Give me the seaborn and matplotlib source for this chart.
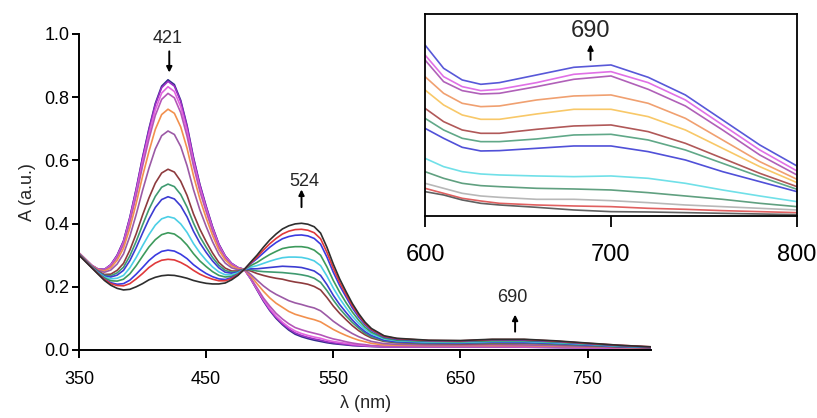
import pandas as pd
import matplotlib
matplotlib.use("Agg")
import matplotlib.pyplot as plt
import seaborn as sns

# wavelength grid of the main spectra (nm)
wavelength = [350, 360, 365, 370, 375, 380, 385, 390, 395, 400, 405, 410, 415, 420,
              425, 430, 435, 440, 445, 450, 455, 460, 465, 470, 475, 480, 485, 490,
              495, 500, 505, 510, 515, 520, 525, 530, 535, 540, 545, 550, 555, 560,
              565, 570, 575, 580, 590, 600, 625, 650, 675, 700, 725, 750, 775, 800]

# titration spectra, first scan -> last scan
t00 = [.307, .268, .256, .255, .270, .300, .345, .420, .510, .610, .700, .780, .835, .855,
       .840, .790, .710, .610, .525, .455, .390, .335, .298, .274, .261, .255, .225, .190,
       .155, .125, .100, .080, .063, .050, .042, .036, .031, .027, .023, .020, .018, .016,
       .014, .013, .012, .011, .010, .010, .010, .010, .010, .009, .008, .007, .006, .005]
t01 = [.307, .268, .256, .255, .269, .299, .344, .418, .508, .607, .696, .776, .830, .850,
       .835, .786, .706, .607, .523, .453, .389, .334, .297, .274, .261, .255, .226, .191,
       .157, .127, .103, .083, .067, .054, .046, .040, .035, .031, .026, .023, .020, .018,
       .015, .014, .013, .012, .010, .010, .010, .010, .010, .009, .008, .007, .006, .005]
t02 = [.307, .268, .255, .254, .268, .296, .339, .412, .499, .596, .683, .760, .813, .833,
       .818, .770, .693, .596, .514, .446, .383, .330, .295, .272, .260, .255, .226, .193,
       .160, .131, .107, .088, .072, .060, .052, .046, .041, .037, .031, .027, .024, .021,
       .018, .016, .014, .013, .011, .011, .011, .011, .011, .010, .009, .007, .006, .005]
t03 = [.307, .267, .255, .253, .265, .293, .334, .404, .488, .582, .667, .742, .793, .812,
       .798, .751, .676, .583, .503, .438, .377, .326, .292, .270, .259, .255, .228, .197,
       .165, .139, .116, .098, .083, .071, .064, .058, .053, .048, .041, .035, .031, .026,
       .022, .019, .017, .014, .012, .012, .011, .011, .011, .011, .009, .008, .007, .005]
t04 = [.306, .267, .254, .250, .260, .284, .322, .386, .464, .550, .628, .698, .745, .762,
       .749, .706, .638, .552, .479, .418, .363, .316, .285, .266, .257, .255, .235, .210,
       .186, .165, .148, .135, .122, .113, .107, .101, .096, .089, .077, .065, .055, .046,
       .038, .031, .026, .021, .016, .015, .014, .014, .014, .014, .012, .010, .008, .006]
t05 = [.305, .266, .252, .246, .253, .272, .304, .360, .429, .505, .575, .636, .678, .693,
       .682, .644, .583, .508, .444, .391, .343, .302, .275, .260, .254, .255, .240, .221,
       .203, .188, .176, .166, .156, .149, .144, .138, .133, .124, .108, .091, .077, .064,
       .052, .042, .034, .027, .020, .018, .016, .016, .017, .016, .014, .011, .009, .006]
t06 = [.304, .264, .249, .239, .240, .252, .274, .316, .368, .427, .481, .528, .560, .572,
       .563, .534, .489, .431, .383, .343, .307, .277, .259, .250, .250, .255, .250, .242,
       .236, .231, .227, .224, .219, .215, .212, .208, .201, .190, .166, .139, .116, .096,
       .077, .061, .048, .038, .027, .023, .020, .019, .021, .021, .018, .014, .010, .007]
t07 = [.303, .264, .247, .236, .235, .244, .262, .298, .344, .396, .445, .486, .515, .525,
       .517, .492, .452, .402, .359, .325, .293, .268, .252, .246, .248, .255, .254, .250,
       .248, .247, .246, .245, .243, .241, .238, .234, .227, .214, .188, .158, .131, .108,
       .087, .069, .053, .042, .029, .025, .021, .021, .023, .023, .019, .015, .011, .008]
t08 = [.303, .263, .246, .234, .231, .237, .252, .283, .324, .370, .414, .451, .476, .485,
       .478, .456, .421, .376, .339, .309, .282, .260, .246, .243, .246, .255, .257, .257,
       .259, .261, .263, .265, .264, .263, .261, .256, .250, .236, .207, .173, .144, .119,
       .095, .075, .058, .046, .031, .026, .023, .022, .025, .024, .021, .016, .011, .008]
t09 = [.302, .262, .245, .231, .225, .227, .236, .260, .293, .330, .365, .395, .415, .422,
       .417, .399, .372, .337, .308, .284, .263, .247, .238, .238, .244, .255, .262, .267,
       .274, .281, .287, .292, .294, .294, .293, .289, .282, .267, .234, .196, .163, .134,
       .107, .084, .065, .051, .035, .029, .025, .024, .027, .027, .023, .018, .012, .009]
t10 = [.302, .262, .243, .228, .219, .218, .224, .241, .267, .297, .326, .349, .365, .371,
       .367, .353, .332, .305, .282, .264, .248, .236, .231, .233, .241, .255, .267, .277,
       .290, .302, .312, .321, .325, .327, .327, .324, .316, .300, .263, .220, .183, .150,
       .120, .094, .072, .056, .038, .031, .027, .026, .029, .029, .025, .019, .013, .009]
t11 = [.301, .261, .242, .224, .213, .208, .210, .221, .240, .261, .283, .300, .312, .316,
       .313, .303, .289, .270, .255, .242, .232, .225, .223, .229, .239, .255, .273, .289,
       .307, .325, .340, .352, .359, .363, .364, .361, .353, .335, .294, .246, .204, .168,
       .133, .104, .080, .062, .041, .034, .029, .028, .032, .031, .027, .020, .014, .009]
t12 = [.301, .261, .241, .223, .210, .204, .203, .210, .225, .242, .261, .275, .284, .287,
       .285, .277, .266, .252, .240, .231, .224, .219, .219, .226, .238, .255, .275, .294,
       .316, .336, .353, .367, .376, .381, .382, .379, .371, .352, .309, .259, .214, .176,
       .140, .110, .084, .065, .043, .036, .030, .029, .033, .033, .028, .021, .015, .010]
t13 = [.300, .260, .240, .220, .205, .195, .190, .192, .200, .210, .222, .230, .235, .237,
       .236, .232, .227, .220, .215, .211, .209, .209, .212, .222, .236, .255, .278, .300,
       .325, .348, .367, .383, .393, .399, .401, .398, .390, .370, .325, .272, .225, .185,
       .147, .115, .088, .068, .045, .037, .031, .030, .034, .034, .029, .022, .015, .010]

main_spectra = [t00, t01, t02, t03, t04, t05, t06, t07, t08, t09, t10, t11, t12, t13]
main_colors = ["#33308c", "#9b2fc4", "#e263de", "#b455b8", "#f2904e", "#9c5aa6",
               "#8e3b3e", "#3f9a70", "#3c3cd2", "#4ccfe6", "#3d9a5c", "#3a3ae0",
               "#e0393b", "#2e2e2e"]

# inset: 600-800 nm band, arbitrary absorbance units
inset_wl = [600, 610, 620, 630, 640, 660, 680, 700, 720, 740, 760, 780, 800]
i01 = [.0513, .0443, .0408, .0395, .0400, .0423, .0446, .0453, .0416, .0363, .0288, .0213, .0150]
i02 = [.0483, .0418, .0388, .0376, .0380, .0400, .0425, .0433, .0400, .0348, .0273, .0198, .0135]
i03 = [.0468, .0403, .0376, .0366, .0368, .0388, .0410, .0420, .0380, .0330, .0258, .0183, .0123]
i04 = [.0418, .0368, .0338, .0328, .0330, .0348, .0360, .0363, .0338, .0293, .0228, .0163, .0110]
i05 = [.0378, .0333, .0303, .0290, .0290, .0306, .0320, .0320, .0298, .0258, .0203, .0148, .0100]
i06 = [.0323, .0283, .0258, .0248, .0248, .0260, .0270, .0273, .0253, .0218, .0173, .0128, .0088]
i07 = [.0293, .0258, .0233, .0223, .0223, .0231, .0243, .0245, .0228, .0198, .0158, .0118, .0080]
i08 = [.0263, .0233, .0206, .0195, .0196, .0203, .0210, .0210, .0193, .0168, .0133, .0103, .0073]
i09 = [.0173, .0148, .0133, .0126, .0123, .0120, .0118, .0120, .0113, .0098, .0078, .0060, .0043]
i10 = [.0133, .0113, .0098, .0091, .0088, .0083, .0081, .0078, .0070, .0060, .0050, .0038, .0028]
i11 = [.0098, .0083, .0068, .0060, .0056, .0050, .0050, .0046, .0040, .0033, .0028, .0023, .0018]
i12 = [.0083, .0068, .0053, .0045, .0038, .0033, .0030, .0028, .0023, .0020, .0016, .0013, .0010]
i13 = [.0073, .0063, .0048, .0038, .0033, .0026, .0018, .0013, .0012, .0010, .0008, .0006, .0004]

inset_spectra = [i01, i02, i03, i04, i05, i06, i07, i08, i09, i10, i11, i12, i13]
inset_colors = ["#5858d8", "#e070e6", "#b060b8", "#f0a070", "#f8c868", "#b05858",
                "#60a888", "#5050d8", "#70e0e8", "#60a080", "#b8b8b8", "#e06060", "#606060"]

sns.set_style("ticks")
plt.rcParams["font.family"] = ["Liberation Sans", "DejaVu Sans"]

fig = plt.figure(figsize=(8.17, 4.18), dpi=100)

# main panel
ax = fig.add_axes([0.0967, 0.1627, 0.7003, 0.756])
df = pd.concat([pd.DataFrame({"wl": wavelength, "A": s, "scan": f"s{i:02d}"})
                for i, s in enumerate(main_spectra)])
sns.lineplot(data=df, x="wl", y="A", hue="scan", palette=main_colors, lw=1.2,
             estimator=None, errorbar=None, legend=False, ax=ax)
ax.set_xlim(350, 800)
ax.set_ylim(0, 1.0)
ax.set_xticks([350, 450, 550, 650, 750])
ax.set_yticks([0.0, 0.2, 0.4, 0.6, 0.8, 1.0])
ax.set_yticklabels(["0.0", "0.2", "0.4", "0.6", "0.8", "1.0"])
sns.despine(ax=ax)
for sp in ["left", "bottom"]:
    ax.spines[sp].set_linewidth(1.4)
    ax.spines[sp].set_color("black")
ax.tick_params(axis="x", direction="out", length=6, width=1.4, labelsize=13, pad=9, colors="black")
ax.tick_params(axis="y", direction="out", length=5, width=1.4, labelsize=13, pad=2, colors="black")
ax.set_xlabel("λ (nm)", fontsize=13, labelpad=5)
ax.set_ylabel("A (a.u.)", fontsize=13, labelpad=6)

arrow = dict(arrowstyle="-|>", color="black", lw=1.4, mutation_scale=8, shrinkA=0, shrinkB=0)
ax.text(419.5, 0.987, "421", ha="center", va="center", fontsize=13)
ax.annotate("", xy=(421, 0.878), xytext=(421, 0.945), arrowprops=arrow)
ax.text(527, 0.532, "524", ha="center", va="center", fontsize=13)
ax.annotate("", xy=(525, 0.508), xytext=(525, 0.452), arrowprops=arrow)
ax.text(691, 0.165, "690", ha="center", va="center", fontsize=13)
ax.annotate("", xy=(693, 0.112), xytext=(693, 0.058), arrowprops=arrow)

# inset panel
axin = fig.add_axes([0.5202, 0.4833, 0.4553, 0.4833])
dfi = pd.concat([pd.DataFrame({"wl": inset_wl, "A": s, "scan": f"s{i:02d}"})
                 for i, s in enumerate(inset_spectra)])
sns.lineplot(data=dfi, x="wl", y="A", hue="scan", palette=inset_colors, lw=1.2,
             estimator=None, errorbar=None, legend=False, ax=axin)
axin.set_xlim(600, 800)
axin.set_ylim(0, 0.0606)
axin.set_xticks([600, 700, 800])
axin.set_yticks([])
axin.set_xlabel("")
axin.set_ylabel("")
for sp in axin.spines.values():
    sp.set_visible(True)
    sp.set_linewidth(1.3)
    sp.set_color("black")
axin.tick_params(axis="x", direction="out", length=8, width=1.3, labelsize=17, pad=12, colors="black")
axin.text(689, 0.0555, "690", ha="center", va="center", fontsize=17)
axin.annotate("", xy=(689, 0.0515), xytext=(689, 0.0468), arrowprops=arrow)

fig.savefig("out.png", dpi=100)
